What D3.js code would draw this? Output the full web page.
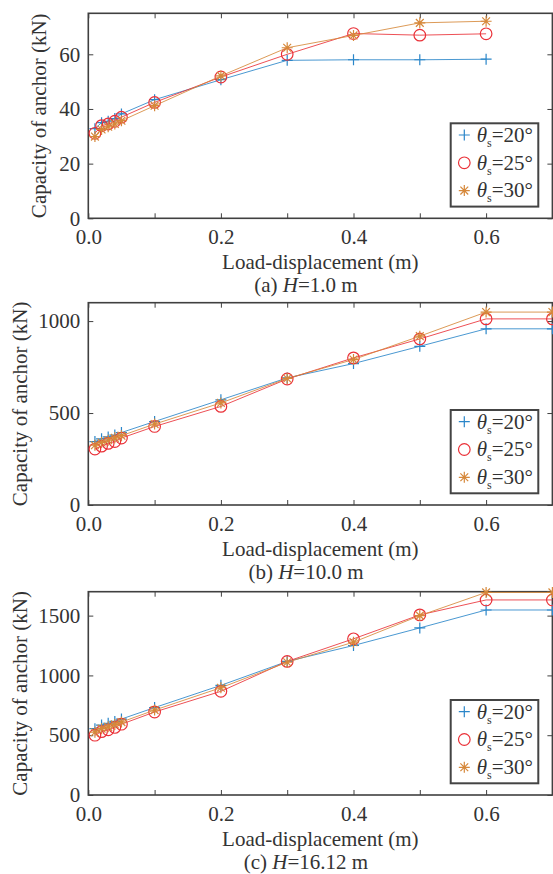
<!DOCTYPE html>
<html><head><meta charset="utf-8">
<script src="https://cdn.jsdelivr.net/npm/d3@7"></script>
<style>body{margin:0;background:#fff}svg{display:block}</style>
</head><body><svg id="c" width="553" height="874"></svg>
<script>
// ---- data ----
const xA = [0.01,0.02,0.03,0.04,0.05,0.1,0.2,0.3,0.4,0.5,0.6];
const xBC = [0.01,0.02,0.03,0.04,0.05,0.1,0.2,0.3,0.4,0.5,0.6,0.7];
const a20 = [32.8,35,35.5,36.5,38.2,43.4,50.7,57.8,58,58,58.2];
const a25 = [31.1,33.9,34.5,35.5,37,42.4,51.7,60,67.6,67,67.5];
const a30 = [29.9,32.5,33.5,34.5,35.7,41.2,52.1,62.4,66.9,71.5,72.1];
const b20 = [345,360,370,380,394,454,572,691,769,863,958,958];
const b25 = [304,320,335,345,364,427,536,685,800,903,1012,1012];
const b30 = [325,340,352,365,377,440,555,688,791,918,1049,1049];
const c20 = [555,585,600,615,635,731,917,1117,1250,1397,1547,1547];
const c25 = [500,530,545,565,592,694,867,1117,1306,1506,1631,1631];
const c30 = [525,555,570,590,610,710,897,1110,1278,1500,1694,1694];
const seriesNames = ["20°","25°","30°"];
const xTicks = [0,0.1,0.2,0.3,0.4,0.5,0.6,0.7];
const xTickLabels = ["0.0","","0.2","","0.4","","0.6",""];
const yTicksA = [0,20,40,60], yTicksB = [0,500,1000], yTicksC = [0,500,1000,1500];
const captions = [["(a) ","H","=1.0 m"],["(b) ","H","=10.0 m"],["(c) ","H","=16.12 m"]];
const xTitle = "Load-displacement (m)";
const yTitle = "Capacity of anchor (kN)";

// ---- style ----
const colors = ["#2a86c9","#ea3138","#d6883a"];
const FONT = "'Liberation Serif','Times New Roman',serif";
const FS = 21;
const AX = "#404040", TXT = "#333";

const panels = [
  {x: xA, ys: [a20,a25,a30], yMax: 75, yTicks: yTicksA, top: 13.3, bottom: 218.3, yTitleX: 38.8, cap: captions[0]},
  {x: xBC, ys: [b20,b25,b30], yMax: 1100, yTicks: yTicksB, top: 302.7, bottom: 505, yTitleX: 19.4, cap: captions[1]},
  {x: xBC, ys: [c20,c25,c30], yMax: 1700, yTicks: yTicksC, top: 591.7, bottom: 795, yTitleX: 19.4, cap: captions[2]}
];
const L = 88.3, R = 552.4;
const svg = d3.select("#c").style("font-family", FONT);

function marker(g, type, color){
  if(type===0){
    g.append("path").attr("d","M-5.5,0H5.5M0,-5.5V5.5").attr("stroke",color).attr("stroke-width",1.2).attr("fill","none");
  } else if(type===1){
    g.append("circle").attr("r",5.8).attr("stroke",color).attr("stroke-width",1.2).attr("fill","none");
  } else {
    g.append("path").attr("d","M-5.5,0H5.5M0,-5.5V5.5M-3.9,-3.9L3.9,3.9M-3.9,3.9L3.9,-3.9").attr("stroke",color).attr("stroke-width",1.2).attr("fill","none");
  }
}

panels.forEach((p) => {
  const x = d3.scaleLinear().domain([0,0.7]).range([L,R]);
  const y = d3.scaleLinear().domain([0,p.yMax]).range([p.bottom,p.top]);
  const g = svg.append("g");

  const bottomAx = d3.axisBottom(x).tickValues(xTicks).tickSizeInner(-5).tickSizeOuter(0).tickPadding(11)
      .tickFormat((d,i)=>xTickLabels[i]);
  const topAx = d3.axisTop(x).tickValues(xTicks).tickSizeInner(-5).tickSizeOuter(0).tickFormat("");
  const leftAx = d3.axisLeft(y).tickValues(p.yTicks).tickSizeInner(-5).tickSizeOuter(0).tickPadding(8).tickFormat(d3.format("d"));
  const rightAx = d3.axisRight(y).tickValues(p.yTicks).tickSizeInner(-5).tickSizeOuter(0).tickFormat("");

  const axes = [
    g.append("g").attr("transform",`translate(0,${p.bottom})`).call(bottomAx),
    g.append("g").attr("transform",`translate(0,${p.top})`).call(topAx),
    g.append("g").attr("transform",`translate(${L},0)`).call(leftAx),
    g.append("g").attr("transform",`translate(${R},0)`).call(rightAx)
  ];
  axes.forEach(a => {
    a.attr("font-family",FONT);
    a.select(".domain").remove();
    a.selectAll(".tick line").attr("stroke",AX).attr("stroke-width",1);
    a.selectAll("text").attr("fill",TXT).style("font-size",FS+"px").style("font-family",FONT);
  });
  g.append("rect").attr("x",L).attr("y",p.top).attr("width",R-L).attr("height",p.bottom-p.top)
    .attr("fill","none").attr("stroke",AX).attr("stroke-width",1.6);

  const line = d3.line().x(d=>x(d[0])).y(d=>y(d[1]));
  p.ys.forEach((vals,si) => {
    const pts = p.x.map((xv,i)=>[xv,vals[i]]);
    g.append("path").datum(pts).attr("d",line).attr("fill","none")
      .attr("stroke",colors[si]).attr("stroke-width",1).attr("stroke-opacity",0.85);
    pts.forEach(pt => {
      const mg = g.append("g").attr("transform",`translate(${x(pt[0])},${y(pt[1])})`);
      marker(mg, si, colors[si]);
    });
  });

  const lg = g.append("g").attr("transform",`translate(450.7,${p.bottom-95})`);
  lg.append("rect").attr("width",87.6).attr("height",83.3).attr("fill","#fff").attr("stroke","#444").attr("stroke-width",2);
  seriesNames.forEach((nm,si) => {
    const cy = 11.7 + si*27.8;
    const mg = lg.append("g").attr("transform",`translate(13.6,${cy})`);
    marker(mg, si, colors[si]);
    const t = lg.append("text").attr("x",26).attr("y",cy+6.8).attr("fill",TXT).style("font-size",FS+"px").style("font-family",FONT);
    t.append("tspan").style("font-style","italic").text("θ");
    t.append("tspan").attr("dy",5).style("font-size","12px").text("s");
    t.append("tspan").attr("dy",-5).text("=" + nm);
  });

  g.append("text").attr("x",(L+R)/2).attr("y",p.bottom+44+7).attr("text-anchor","middle")
    .attr("fill",TXT).style("font-size",FS+"px").style("font-family",FONT).text(xTitle);
  g.append("text").attr("transform",`translate(${p.yTitleX},${(p.top+p.bottom)/2}) rotate(-90)`)
    .attr("text-anchor","middle").attr("dy","0.35em").attr("fill",TXT).style("font-size",FS+"px").style("font-family",FONT).text(yTitle);
  const cap = g.append("text").attr("x",306).attr("y",p.bottom+66.5+7).attr("text-anchor","middle")
    .attr("fill",TXT).style("font-size",FS+"px").style("font-family",FONT);
  cap.append("tspan").text(p.cap[0]);
  cap.append("tspan").style("font-style","italic").text(p.cap[1]);
  cap.append("tspan").text(p.cap[2]);
});
</script></body></html>
